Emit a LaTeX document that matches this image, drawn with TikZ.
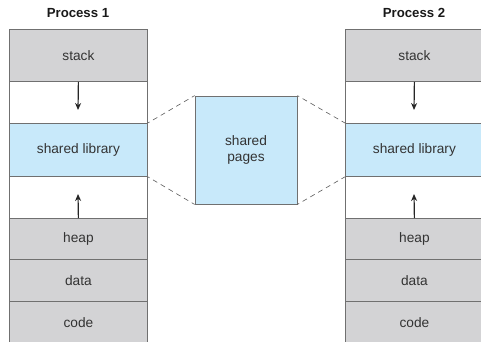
\documentclass[tikz,border=0pt]{standalone}
\usepackage{fontspec}
\setmainfont{Liberation Sans}
\usetikzlibrary{arrows.meta}
\definecolor{segGray}{HTML}{D3D3D5}
\definecolor{segBlue}{HTML}{C8E9FA}
\definecolor{segLine}{HTML}{707070}
\definecolor{arrowCol}{HTML}{262626}
\begin{document}
\begin{tikzpicture}[x=1pt,y=-1pt,
  seg/.style={draw=segLine,line width=0.8pt,minimum width=138pt,inner sep=0pt,anchor=north west,
    font=\fontsize{13.7}{16}\selectfont,text=black!80},
  grayseg/.style={seg,fill=segGray},
  blueseg/.style={seg,fill=segBlue},
  whiteseg/.style={seg,fill=white},
  proctitle/.style={font=\fontsize{13.2}{16}\selectfont\bfseries,text=black!90},
  growarrow/.style={draw=arrowCol,line width=1.2pt,-{Stealth[length=7pt,width=6pt]}},
  sharedash/.style={draw=black!65,line width=0.6pt,dash pattern=on 5pt off 4pt,dash phase=3pt}]
\useasboundingbox (0,0) rectangle (481,341);
\clip (0,0) rectangle (481,341);
\foreach \p/\x/\t in {a/9/Process 1,b/345/Process 2}{
  \node[proctitle] (title\p) at (\x+69,13) {\t};
  \node[grayseg,minimum height=52pt] (stack\p) at (\x,29) {stack};
  \node[whiteseg,minimum height=42pt] (gapu\p) at (\x,81) {};
  \node[blueseg,minimum height=53pt] (lib\p) at (\x,123) {shared library};
  \node[whiteseg,minimum height=42pt] (gapd\p) at (\x,176) {};
  \node[grayseg,minimum height=41pt] (heap\p) at (\x,218) {heap};
  \node[grayseg,minimum height=42pt] (data\p) at (\x,259) {data};
  \node[grayseg,minimum height=50pt] (code\p) at (\x,301) {\raisebox{8pt}{code}};
  \coordinate (downtip\p) at (\x+69,110);
  \coordinate (uptip\p) at (\x+69,194);
  \draw[growarrow] (stack\p.south) -- (downtip\p);
  \draw[growarrow] (heap\p.north) -- (uptip\p);
}
\node[draw=segLine,line width=0.8pt,fill=segBlue,minimum width=102pt,minimum height=108pt,
  inner sep=0pt,align=center,font=\fontsize{13.7}{16}\selectfont,text=black!80]
  (pages) at (246,150) {shared\\pages};
\draw[sharedash] (liba.north east) -- (pages.north west);
\draw[sharedash] (liba.south east) -- (pages.south west);
\draw[sharedash] (pages.north east) -- (libb.north west);
\draw[sharedash] (pages.south east) -- (libb.south west);
\end{tikzpicture}
\end{document}
